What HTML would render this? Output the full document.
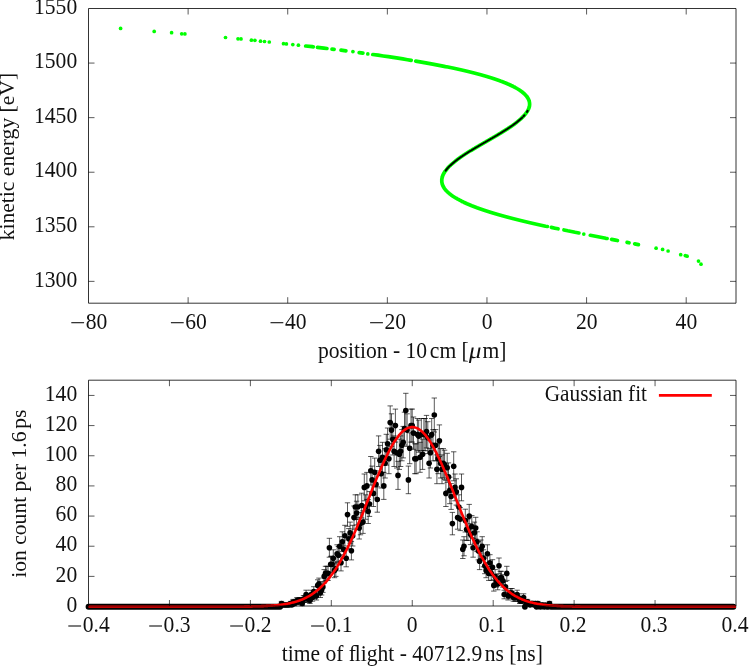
<!DOCTYPE html>
<html><head><meta charset="utf-8"><title>plot</title>
<style>
html,body{margin:0;padding:0;background:#fff;}
body{width:749px;height:667px;overflow:hidden;font-family:"Liberation Serif",serif;}
svg{display:block;will-change:transform;}
</style></head><body>
<svg width="749" height="667" viewBox="0 0 749 667">
<rect width="749" height="667" fill="#fff"/>
<g id="top">
<path d="M188.12 303.2v-6.0M188.12 8.5v6.0M287.73 303.2v-6.0M287.73 8.5v6.0M387.35 303.2v-6.0M387.35 8.5v6.0M486.96 303.2v-6.0M486.96 8.5v6.0M586.58 303.2v-6.0M586.58 8.5v6.0M686.19 303.2v-6.0M686.19 8.5v6.0M88.5 281.37h6.0M736.0 281.37h-6.0M88.5 226.80h6.0M736.0 226.80h-6.0M88.5 172.22h6.0M736.0 172.22h-6.0M88.5 117.65h6.0M736.0 117.65h-6.0M88.5 63.07h6.0M736.0 63.07h-6.0" stroke="#000" stroke-width="0.65" fill="none"/>
<path d="M305.7 46.0L312.2 46.7L313.3 46.8M317.5 47.3L323.8 48.1L326.9 48.5M332.0 49.1L334.1 49.3M341.0 50.2L345.9 50.8M359.2 52.6L362.9 53.1M372.8 54.5L378.1 55.2L383.2 56.0L388.3 56.7L393.2 57.4L398.1 58.2L402.8 58.9L407.5 59.7L411.2 60.3M415.7 61.1L418.6 61.6L421.5 62.1L424.3 62.6L427.1 63.1L429.9 63.6L432.6 64.1L435.2 64.6L437.8 65.1L440.4 65.6L442.9 66.1L445.4 66.6L447.9 67.0L450.3 67.5L452.7 68.0L455.0 68.5L457.3 69.0L459.5 69.5L461.7 70.0L463.9 70.5L466.0 71.0L468.1 71.5L470.1 72.0L472.1 72.5L474.1 73.0L476.0 73.5L477.9 74.0L479.8 74.5L481.6 75.0L483.3 75.5L485.1 76.0L486.8 76.5L488.4 77.0L490.1 77.5L491.7 78.0L493.2 78.5L494.7 79.0L496.2 79.5L497.6 80.0L499.1 80.5L500.4 81.0L501.8 81.5L503.1 82.0L504.3 82.5L505.6 83.0L506.8 83.5L507.9 84.0L509.1 84.5L510.2 85.0L511.2 85.5L512.3 86.0L513.3 86.5L514.2 87.0L515.2 87.5L516.1 88.0L516.9 88.5L517.8 89.0L518.6 89.5L519.4 90.0L520.1 90.5L520.8 91.0L521.5 91.5L522.2 92.0L522.8 92.5L523.4 93.0L523.9 93.5L524.5 94.0L525.0 94.5L525.5 95.0L525.9 95.5L526.4 96.0L526.8 96.5L527.1 97.0L527.5 97.5L527.8 98.0L528.1 98.5L528.3 99.0L528.6 99.5L528.8 100.0L529.0 100.5L529.1 101.0L529.3 101.5L529.4 102.0L529.5 102.5L529.5 103.0L529.6 103.5L529.6 104.0L529.6 104.5L529.6 105.0L529.5 105.5L529.5 106.0L529.4 106.5L529.2 107.0L529.1 107.5L528.9 108.0L528.8 108.5L528.6 108.9L528.3 109.4L528.1 109.9L527.9 110.4L527.6 110.9L527.3 111.4L527.0 111.9L526.6 112.4L526.3 112.9L525.9 113.4L525.5 113.9L525.1 114.4L524.7 114.9L524.3 115.4L523.8 115.9L523.3 116.4L522.8 116.9L522.3 117.4L521.8 117.9L521.3 118.4L520.8 118.9L520.2 119.4L519.6 119.9L519.0 120.4L518.4 120.9L517.8 121.4L517.2 121.9L516.6 122.4L515.9 122.9L515.3 123.4L514.6 123.9L513.9 124.4L513.2 124.9L512.5 125.4L511.8 125.9L511.1 126.4L510.4 126.9L509.6 127.4L508.9 127.9L508.1 128.4L507.4 128.9L506.6 129.4L505.8 129.9L505.0 130.4L504.2 130.9L503.4 131.4L502.6 131.9L501.8 132.4L501.0 132.9L500.2 133.4L499.3 133.9L498.5 134.4L497.7 134.9L496.8 135.4L496.0 135.9L495.1 136.4L494.3 136.9L493.4 137.4L492.6 137.9L491.7 138.4L490.8 138.9L490.0 139.4L489.1 139.9L488.3 140.4L487.4 140.9L486.5 141.4L485.7 141.9L484.8 142.4L483.9 142.9L483.1 143.4L482.2 143.9L481.4 144.4L480.5 144.9L479.6 145.4L478.8 145.9L477.9 146.4L477.1 146.9L476.2 147.4L475.4 147.9L474.6 148.4L473.7 148.9L472.9 149.4L472.1 149.9L471.3 150.4L470.4 150.8L469.6 151.3L468.8 151.8L468.0 152.3L467.2 152.8L466.5 153.3L465.7 153.8L464.9 154.3L464.2 154.8L463.4 155.3L462.7 155.8L461.9 156.3L461.2 156.8L460.5 157.3L459.8 157.8L459.1 158.3L458.4 158.8L457.7 159.3L457.0 159.8L456.4 160.3L455.7 160.8L455.1 161.3L454.5 161.8L453.9 162.3L453.3 162.8L452.7 163.3L452.1 163.8L451.5 164.3L451.0 164.8L450.5 165.3L449.9 165.8L449.4 166.3L448.9 166.8L448.4 167.3L448.0 167.8L447.5 168.3L447.1 168.8L446.7 169.3L446.3 169.8L445.9 170.3L445.5 170.8L445.1 171.3L444.8 171.8L444.5 172.3L444.2 172.8L443.9 173.3L443.6 173.8L443.4 174.3L443.1 174.8L442.9 175.3L442.7 175.8L442.5 176.3L442.4 176.8L442.2 177.3L442.1 177.8L442.0 178.3L441.9 178.8L441.8 179.3L441.8 179.8L441.8 180.3L441.8 180.8L441.8 181.3L441.8 181.8L441.9 182.3L442.0 182.8L442.1 183.3L442.2 183.8L442.3 184.3L442.5 184.8L442.7 185.3L442.9 185.8L443.2 186.3L443.4 186.8L443.7 187.3L444.0 187.8L444.3 188.3L444.7 188.8L445.1 189.3L445.5 189.8L445.9 190.3L446.3 190.8L446.8 191.3L447.3 191.8L447.8 192.3L448.4 192.7L448.9 193.2L449.5 193.7L450.2 194.2L450.8 194.7L451.5 195.2L452.2 195.7L452.9 196.2L453.7 196.7L454.5 197.2L455.3 197.7L456.1 198.2L457.0 198.7L457.8 199.2L458.8 199.7L459.7 200.2L460.7 200.7L461.6 201.2L462.7 201.7L463.7 202.2L464.8 202.7L465.9 203.2L467.0 203.7L468.2 204.2L469.4 204.7L470.6 205.2L471.8 205.7L473.1 206.2L474.4 206.7L475.7 207.2L477.0 207.7L478.4 208.2L479.8 208.7L481.3 209.2L482.7 209.7L484.2 210.2L485.7 210.7L487.3 211.2L488.8 211.7L490.4 212.2L492.0 212.7L493.7 213.2L495.4 213.7L497.1 214.2L498.8 214.7L500.6 215.2L502.4 215.7L504.2 216.2L506.0 216.7L507.9 217.2L509.8 217.7L511.7 218.2L513.6 218.7L515.6 219.2L517.6 219.7L519.6 220.2L521.6 220.7L523.7 221.2L525.8 221.7L527.9 222.2L530.0 222.7L532.2 223.2L534.4 223.7L536.6 224.2L538.8 224.7L541.1 225.2L543.3 225.7L545.6 226.2L547.4 226.5M551.4 227.4L555.0 228.2L558.0 228.8M564.0 230.0L567.7 230.8L571.4 231.5L575.1 232.3L578.9 233.0M590.3 235.3L594.2 236.0L598.1 236.8L601.9 237.5L605.8 238.3L607.1 238.5M611.6 239.4L615.5 240.1L617.4 240.5M627.1 242.4L629.0 242.8M634.7 243.9L638.4 244.6" fill="none" stroke="#00ff00" stroke-width="3.7" stroke-linecap="round" stroke-linejoin="round"/>
<g fill="#00ff00"><circle cx="120.6" cy="28.4" r="1.85"/><circle cx="154.2" cy="31.4" r="1.85"/><circle cx="171.6" cy="32.7" r="1.85"/><circle cx="181.7" cy="33.8" r="1.85"/><circle cx="184.9" cy="33.9" r="1.85"/><circle cx="225.5" cy="37.5" r="1.85"/><circle cx="238" cy="38.8" r="1.85"/><circle cx="241" cy="38.9" r="1.85"/><circle cx="251.4" cy="40.2" r="1.85"/><circle cx="254.9" cy="40.3" r="1.85"/><circle cx="260.5" cy="41.2" r="1.85"/><circle cx="264.5" cy="41.5" r="1.85"/><circle cx="269.3" cy="42" r="1.85"/><circle cx="283.5" cy="43.7" r="1.85"/><circle cx="286.4" cy="43.9" r="1.85"/><circle cx="292.8" cy="44.6" r="1.85"/><circle cx="298.4" cy="45.2" r="1.85"/><circle cx="352.9" cy="51.6" r="1.85"/><circle cx="367.8" cy="53.9" r="1.85"/><circle cx="583.8" cy="234.1" r="1.85"/><circle cx="656.1" cy="248.2" r="1.85"/><circle cx="662.6" cy="249.4" r="1.85"/><circle cx="668.1" cy="251" r="1.85"/><circle cx="680.7" cy="254.7" r="1.85"/><circle cx="685.3" cy="255.6" r="1.85"/><circle cx="687.1" cy="256.2" r="1.85"/><circle cx="698.5" cy="261.1" r="1.85"/><circle cx="701" cy="264.2" r="1.85"/></g>
<path d="M522.2 117.6L521.7 118.1L521.2 118.6L520.6 119.1L520.1 119.5L519.5 120.0L518.9 120.5L518.3 121.0L517.7 121.5L517.1 122.0L516.4 122.5L515.8 123.0L515.1 123.5L514.4 124.0L513.7 124.5L513.1 125.0L512.4 125.5L511.6 126.0L510.9 126.5L510.2 127.0L509.4 127.5L508.7 128.0L507.9 128.5L507.2 129.0L506.4 129.5L505.6 130.0L504.8 130.5L504.0 131.0L503.2 131.5L502.4 132.0L501.6 132.5L500.8 133.0L500.0 133.5L499.1 134.0L498.3 134.5L497.5 135.0L496.6 135.5L495.8 136.0L494.9 136.5L494.1 137.0L493.2 137.5L492.4 138.0L491.5 138.5L490.6 139.0L489.8 139.5L488.9 140.0L488.0 140.5L487.2 141.0L486.3 141.5L485.5 142.0L484.6 142.5L483.7 143.0L482.9 143.5L482.0 144.0L481.1 144.5L480.3 145.0L479.4 145.5L478.6 146.0L477.7 146.5L476.9 147.0L476.0 147.5L475.2 148.0L474.4 148.5L473.5 149.0L472.7 149.5L471.9 150.0L471.1 150.5L470.2 151.0L469.4 151.5L468.6 152.0L467.8 152.5L467.1 153.0L466.3 153.5L465.5 154.0L464.7 154.5L464.0 155.0L463.2 155.5L462.5 156.0L461.7 156.5L461.0 157.0L460.3 157.5L459.6 158.0L458.9 158.5L458.2 159.0L457.5 159.5L456.9 160.0L456.2 160.5L455.6 161.0L454.9 161.4L454.3 161.9L453.7 162.4L453.1 162.9L452.5 163.4L452.0 163.9L451.4 164.4L450.9 164.9L450.3 165.4L449.8 165.9L449.3 166.4L448.8 166.9L448.3 167.4L447.9 167.9L447.4 168.4L447.0 168.9L446.6 169.4L446.2 169.9L445.8 170.4L445.7 170.6M524.4 115.3L524.3 115.4L524.1 115.6L524.0 115.7L523.9 115.8L523.8 115.9L523.7 116.1L523.6 116.2M527.6 110.9L527.5 111.1L527.4 111.2L527.4 111.3L527.3 111.4L527.2 111.6L527.1 111.7L527.0 111.8L527.0 111.9" fill="none" stroke="#000" stroke-width="2.0" stroke-linecap="round"/>
<rect x="88.5" y="8.5" width="647.50" height="294.70" fill="none" stroke="#000" stroke-width="0.8" stroke-linejoin="round"/>
<g font-family="Liberation Serif, serif" font-size="21.6" fill="#111">
<path d="M71.3 322.7H84.1" stroke="#111" stroke-width="1.1"/><text transform="translate(85.7,328.6) scale(1,1.07)" text-anchor="start">80</text>
<path d="M170.9 322.7H183.7" stroke="#111" stroke-width="1.1"/><text transform="translate(185.3,328.6) scale(1,1.07)" text-anchor="start">60</text>
<path d="M270.5 322.7H283.3" stroke="#111" stroke-width="1.1"/><text transform="translate(284.9,328.6) scale(1,1.07)" text-anchor="start">40</text>
<path d="M370.1 322.7H382.9" stroke="#111" stroke-width="1.1"/><text transform="translate(384.5,328.6) scale(1,1.07)" text-anchor="start">20</text>
<text transform="translate(481.8,328.6) scale(1,1.07)" text-anchor="start">0</text>
<text transform="translate(576.0,328.6) scale(1,1.07)" text-anchor="start">20</text>
<text transform="translate(675.6,328.6) scale(1,1.07)" text-anchor="start">40</text>
<text transform="translate(77.2,286.6) scale(1,1.07)" text-anchor="end">1300</text>
<text transform="translate(77.2,232.0) scale(1,1.07)" text-anchor="end">1350</text>
<text transform="translate(77.2,177.4) scale(1,1.07)" text-anchor="end">1400</text>
<text transform="translate(77.2,122.8) scale(1,1.07)" text-anchor="end">1450</text>
<text transform="translate(77.2,68.3) scale(1,1.07)" text-anchor="end">1500</text>
<text transform="translate(77.2,13.7) scale(1,1.07)" text-anchor="end">1550</text>
<text transform="translate(317.9,358.1) scale(1,1.07)" text-anchor="start">position - 10</text>
<text transform="translate(429.8,358.1) scale(1,1.07)" text-anchor="start">cm [</text>
<text transform="translate(467.8,358.1) scale(1.15,1.07) skewX(-10)">μ</text>
<text transform="translate(482.5,358.1) scale(1,1.07)" text-anchor="start">m]</text>
<text transform="translate(14.2,156.6) rotate(-90)" text-anchor="middle">kinetic energy [eV]</text>
</g>
</g>
<g id="bottom">
<path d="M281.5 601.4V605.7M278.8 601.4h5.4M278.8 605.7h5.4M282.8 603.5V606.5M280.1 603.5h5.4M280.1 606.5h5.4M284.0 603.5V606.5M281.3 603.5h5.4M281.3 606.5h5.4M285.3 603.5V606.5M282.6 603.5h5.4M282.6 606.5h5.4M286.6 603.5V606.5M283.9 603.5h5.4M283.9 606.5h5.4M287.9 603.5V606.5M285.2 603.5h5.4M285.2 606.5h5.4M289.2 603.5V606.5M286.5 603.5h5.4M286.5 606.5h5.4M290.5 601.4V605.7M287.8 601.4h5.4M287.8 605.7h5.4M291.8 603.5V606.5M289.1 603.5h5.4M289.1 606.5h5.4M293.1 599.4V604.6M290.4 599.4h5.4M290.4 604.6h5.4M294.4 601.4V605.7M291.7 601.4h5.4M291.7 605.7h5.4M295.7 599.4V604.6M293.0 599.4h5.4M293.0 604.6h5.4M297.0 597.5V603.5M294.3 597.5h5.4M294.3 603.5h5.4M298.3 599.4V604.6M295.6 599.4h5.4M295.6 604.6h5.4M299.6 597.5V603.5M296.9 597.5h5.4M296.9 603.5h5.4M300.9 597.5V603.5M298.2 597.5h5.4M298.2 603.5h5.4M302.2 601.4V605.7M299.5 601.4h5.4M299.5 605.7h5.4M303.5 595.6V602.4M300.8 595.6h5.4M300.8 602.4h5.4M304.8 595.6V602.4M302.1 595.6h5.4M302.1 602.4h5.4M306.1 590.2V598.8M303.4 590.2h5.4M303.4 598.8h5.4M307.4 595.6V602.4M304.7 595.6h5.4M304.7 602.4h5.4M308.6 593.8V601.2M305.9 593.8h5.4M305.9 601.2h5.4M309.9 597.5V603.5M307.2 597.5h5.4M307.2 603.5h5.4M311.2 590.2V598.8M308.5 590.2h5.4M308.5 598.8h5.4M312.5 593.8V601.2M309.8 593.8h5.4M309.8 601.2h5.4M313.8 586.7V596.2M311.1 586.7h5.4M311.1 596.2h5.4M315.1 590.2V598.8M312.4 590.2h5.4M312.4 598.8h5.4M316.4 592.0V600.0M313.7 592.0h5.4M313.7 600.0h5.4M317.7 579.8V591.1M315.0 579.8h5.4M315.0 591.1h5.4M319.0 578.1V589.8M316.3 578.1h5.4M316.3 589.8h5.4M320.3 588.5V597.5M317.6 588.5h5.4M317.6 597.5h5.4M321.6 585.0V595.0M318.9 585.0h5.4M318.9 595.0h5.4M322.9 581.5V592.4M320.2 581.5h5.4M320.2 592.4h5.4M324.2 569.6V583.1M321.5 569.6h5.4M321.5 583.1h5.4M325.5 566.3V580.4M322.8 566.3h5.4M322.8 580.4h5.4M326.8 566.3V580.4M324.1 566.3h5.4M324.1 580.4h5.4M328.1 566.3V580.4M325.4 566.3h5.4M325.4 580.4h5.4M329.4 538.3V557.2M326.7 538.3h5.4M326.7 557.2h5.4M330.7 556.3V572.3M328.0 556.3h5.4M328.0 572.3h5.4M332.0 556.3V572.3M329.3 556.3h5.4M329.3 572.3h5.4M333.3 549.8V566.8M330.6 549.8h5.4M330.6 566.8h5.4M334.5 563.0V577.7M331.8 563.0h5.4M331.8 577.7h5.4M335.8 561.3V576.4M333.1 561.3h5.4M333.1 576.4h5.4M337.1 544.8V562.7M334.4 544.8h5.4M334.4 562.7h5.4M338.4 546.5V564.1M335.7 546.5h5.4M335.7 564.1h5.4M339.7 536.7V555.8M337.0 536.7h5.4M337.0 555.8h5.4M341.0 554.7V570.9M338.3 554.7h5.4M338.3 570.9h5.4M342.3 531.8V551.6M339.6 531.8h5.4M339.6 551.6h5.4M343.6 540.0V558.5M340.9 540.0h5.4M340.9 558.5h5.4M344.9 525.3V546.0M342.2 525.3h5.4M342.2 546.0h5.4M346.2 549.8V566.8M343.5 549.8h5.4M343.5 566.8h5.4M347.5 502.8V526.3M344.8 502.8h5.4M344.8 526.3h5.4M348.8 528.6V548.8M346.1 528.6h5.4M346.1 548.8h5.4M350.1 522.1V543.2M347.4 522.1h5.4M347.4 543.2h5.4M351.4 541.6V559.9M348.7 541.6h5.4M348.7 559.9h5.4M352.7 525.3V546.0M350.0 525.3h5.4M350.0 546.0h5.4M354.0 506.0V529.2M351.3 506.0h5.4M351.3 529.2h5.4M355.3 494.8V519.3M352.6 494.8h5.4M352.6 519.3h5.4M356.6 501.2V524.9M353.9 501.2h5.4M353.9 524.9h5.4M357.9 494.8V519.3M355.2 494.8h5.4M355.2 519.3h5.4M359.2 517.3V539.0M356.5 517.3h5.4M356.5 539.0h5.4M360.4 512.4V534.8M357.8 512.4h5.4M357.8 534.8h5.4M361.7 493.2V517.9M359.0 493.2h5.4M359.0 517.9h5.4M363.0 510.8V533.4M360.3 510.8h5.4M360.3 533.4h5.4M364.3 474.0V500.8M361.6 474.0h5.4M361.6 500.8h5.4M365.6 494.8V519.3M362.9 494.8h5.4M362.9 519.3h5.4M366.9 472.4V499.4M364.2 472.4h5.4M364.2 499.4h5.4M368.2 499.6V523.5M365.5 499.6h5.4M365.5 523.5h5.4M369.5 491.6V516.4M366.8 491.6h5.4M366.8 516.4h5.4M370.8 456.5V485.1M368.1 456.5h5.4M368.1 485.1h5.4M372.1 466.1V493.7M369.4 466.1h5.4M369.4 493.7h5.4M373.4 480.4V506.5M370.7 480.4h5.4M370.7 506.5h5.4M374.7 458.1V486.6M372.0 458.1h5.4M372.0 486.6h5.4M376.0 470.8V498.0M373.3 470.8h5.4M373.3 498.0h5.4M377.3 486.8V512.2M374.6 486.8h5.4M374.6 512.2h5.4M378.6 435.9V466.5M375.9 435.9h5.4M375.9 466.5h5.4M379.9 445.4V475.1M377.2 445.4h5.4M377.2 475.1h5.4M381.2 459.7V488.0M378.5 459.7h5.4M378.5 488.0h5.4M382.5 442.3V472.3M379.8 442.3h5.4M379.8 472.3h5.4M383.8 472.4V499.4M381.1 472.4h5.4M381.1 499.4h5.4M385.1 448.6V478.0M382.4 448.6h5.4M382.4 478.0h5.4M386.3 434.3V465.1M383.6 434.3h5.4M383.6 465.1h5.4M387.6 428.0V459.4M384.9 428.0h5.4M384.9 459.4h5.4M388.9 443.8V473.7M386.2 443.8h5.4M386.2 473.7h5.4M390.2 405.9V439.2M387.5 405.9h5.4M387.5 439.2h5.4M391.5 413.8V446.4M388.8 413.8h5.4M388.8 446.4h5.4M392.8 423.3V455.0M390.1 423.3h5.4M390.1 455.0h5.4M394.1 435.9V466.5M391.4 435.9h5.4M391.4 466.5h5.4M395.4 409.1V442.1M392.7 409.1h5.4M392.7 442.1h5.4M396.7 437.5V468.0M394.0 437.5h5.4M394.0 468.0h5.4M398.0 461.3V489.4M395.3 461.3h5.4M395.3 489.4h5.4M399.3 439.1V469.4M396.6 439.1h5.4M396.6 469.4h5.4M400.6 435.9V466.5M397.9 435.9h5.4M397.9 466.5h5.4M401.9 429.6V460.8M399.2 429.6h5.4M399.2 460.8h5.4M403.2 426.4V457.9M400.5 426.4h5.4M400.5 457.9h5.4M404.5 412.2V445.0M401.8 412.2h5.4M401.8 445.0h5.4M405.8 393.3V427.7M403.1 393.3h5.4M403.1 427.7h5.4M407.1 413.8V446.4M404.4 413.8h5.4M404.4 446.4h5.4M408.4 466.1V493.7M405.7 466.1h5.4M405.7 493.7h5.4M409.7 432.8V463.7M407.0 432.8h5.4M407.0 463.7h5.4M411.0 409.1V442.1M408.3 409.1h5.4M408.3 442.1h5.4M412.2 409.1V442.1M409.6 409.1h5.4M409.6 442.1h5.4M413.5 417.0V449.3M410.8 417.0h5.4M410.8 449.3h5.4M414.8 443.8V473.7M412.1 443.8h5.4M412.1 473.7h5.4M416.1 443.8V473.7M413.4 443.8h5.4M413.4 473.7h5.4M417.4 418.5V450.7M414.7 418.5h5.4M414.7 450.7h5.4M418.7 420.1V452.2M416.0 420.1h5.4M416.0 452.2h5.4M420.0 442.3V472.3M417.3 442.3h5.4M417.3 472.3h5.4M421.3 418.5V450.7M418.6 418.5h5.4M418.6 450.7h5.4M422.6 439.1V469.4M419.9 439.1h5.4M419.9 469.4h5.4M423.9 418.5V450.7M421.2 418.5h5.4M421.2 450.7h5.4M425.2 418.5V450.7M422.5 418.5h5.4M422.5 450.7h5.4M426.5 415.4V447.9M423.8 415.4h5.4M423.8 447.9h5.4M427.8 421.7V453.6M425.1 421.7h5.4M425.1 453.6h5.4M429.1 448.6V478.0M426.4 448.6h5.4M426.4 478.0h5.4M430.4 437.5V468.0M427.7 437.5h5.4M427.7 468.0h5.4M431.7 418.5V450.7M429.0 418.5h5.4M429.0 450.7h5.4M433.0 429.6V460.8M430.3 429.6h5.4M430.3 460.8h5.4M434.3 398.0V432.0M431.6 398.0h5.4M431.6 432.0h5.4M435.6 429.6V460.8M432.9 429.6h5.4M432.9 460.8h5.4M436.9 454.9V483.7M434.2 454.9h5.4M434.2 483.7h5.4M438.1 443.8V473.7M435.4 443.8h5.4M435.4 473.7h5.4M439.4 424.9V456.5M436.7 424.9h5.4M436.7 456.5h5.4M440.7 448.6V478.0M438.0 448.6h5.4M438.0 478.0h5.4M442.0 454.9V483.7M439.3 454.9h5.4M439.3 483.7h5.4M443.3 448.6V478.0M440.6 448.6h5.4M440.6 478.0h5.4M444.6 450.2V479.4M441.9 450.2h5.4M441.9 479.4h5.4M445.9 480.4V506.5M443.2 480.4h5.4M443.2 506.5h5.4M447.2 453.3V482.3M444.5 453.3h5.4M444.5 482.3h5.4M448.5 462.9V490.8M445.8 462.9h5.4M445.8 490.8h5.4M449.8 477.2V503.7M447.1 477.2h5.4M447.1 503.7h5.4M451.1 483.6V509.4M448.4 483.6h5.4M448.4 509.4h5.4M452.4 512.4V534.8M449.7 512.4h5.4M449.7 534.8h5.4M453.7 451.8V480.8M451.0 451.8h5.4M451.0 480.8h5.4M455.0 474.0V500.8M452.3 474.0h5.4M452.3 500.8h5.4M456.3 478.8V505.1M453.6 478.8h5.4M453.6 505.1h5.4M457.6 506.0V529.2M454.9 506.0h5.4M454.9 529.2h5.4M458.9 494.8V519.3M456.2 494.8h5.4M456.2 519.3h5.4M460.2 507.6V530.6M457.5 507.6h5.4M457.5 530.6h5.4M461.5 474.0V500.8M458.8 474.0h5.4M458.8 500.8h5.4M462.8 540.0V558.5M460.1 540.0h5.4M460.1 558.5h5.4M464.0 536.7V555.8M461.3 536.7h5.4M461.3 555.8h5.4M465.3 509.2V532.0M462.6 509.2h5.4M462.6 532.0h5.4M466.6 518.9V540.4M463.9 518.9h5.4M463.9 540.4h5.4M467.9 518.9V540.4M465.2 518.9h5.4M465.2 540.4h5.4M469.2 504.4V527.8M466.5 504.4h5.4M466.5 527.8h5.4M470.5 523.7V544.6M467.8 523.7h5.4M467.8 544.6h5.4M471.8 515.6V537.6M469.1 515.6h5.4M469.1 537.6h5.4M473.1 538.3V557.2M470.4 538.3h5.4M470.4 557.2h5.4M474.4 522.1V543.2M471.7 522.1h5.4M471.7 543.2h5.4M475.7 517.3V539.0M473.0 517.3h5.4M473.0 539.0h5.4M477.0 531.8V551.6M474.3 531.8h5.4M474.3 551.6h5.4M478.3 541.6V559.9M475.6 541.6h5.4M475.6 559.9h5.4M479.6 553.1V569.6M476.9 553.1h5.4M476.9 569.6h5.4M480.9 540.0V558.5M478.2 540.0h5.4M478.2 558.5h5.4M482.2 536.7V555.8M479.5 536.7h5.4M479.5 555.8h5.4M483.5 549.8V566.8M480.8 549.8h5.4M480.8 566.8h5.4M484.8 558.0V573.7M482.1 558.0h5.4M482.1 573.7h5.4M486.1 563.0V577.7M483.4 563.0h5.4M483.4 577.7h5.4M487.4 544.8V562.7M484.7 544.8h5.4M484.7 562.7h5.4M488.7 566.3V580.4M486.0 566.3h5.4M486.0 580.4h5.4M489.9 554.7V570.9M487.2 554.7h5.4M487.2 570.9h5.4M491.2 566.3V580.4M488.5 566.3h5.4M488.5 580.4h5.4M492.5 559.7V575.0M489.8 559.7h5.4M489.8 575.0h5.4M493.8 579.8V591.1M491.1 579.8h5.4M491.1 591.1h5.4M495.1 569.6V583.1M492.4 569.6h5.4M492.4 583.1h5.4M496.4 574.7V587.1M493.7 574.7h5.4M493.7 587.1h5.4M497.7 578.1V589.8M495.0 578.1h5.4M495.0 589.8h5.4M499.0 558.0V573.7M496.3 558.0h5.4M496.3 573.7h5.4M500.3 571.3V584.5M497.6 571.3h5.4M497.6 584.5h5.4M501.6 571.3V584.5M498.9 571.3h5.4M498.9 584.5h5.4M502.9 574.7V587.1M500.2 574.7h5.4M500.2 587.1h5.4M504.2 590.2V598.8M501.5 590.2h5.4M501.5 598.8h5.4M505.5 581.5V592.4M502.8 581.5h5.4M502.8 592.4h5.4M506.8 566.3V580.4M504.1 566.3h5.4M504.1 580.4h5.4M508.1 592.0V600.0M505.4 592.0h5.4M505.4 600.0h5.4M509.4 590.2V598.8M506.7 590.2h5.4M506.7 598.8h5.4M510.7 588.5V597.5M508.0 588.5h5.4M508.0 597.5h5.4M512.0 588.5V597.5M509.3 588.5h5.4M509.3 597.5h5.4M513.3 593.8V601.2M510.6 593.8h5.4M510.6 601.2h5.4M514.6 593.8V601.2M511.9 593.8h5.4M511.9 601.2h5.4M515.9 593.8V601.2M513.1 593.8h5.4M513.1 601.2h5.4M517.1 590.2V598.8M514.4 590.2h5.4M514.4 598.8h5.4M518.4 593.8V601.2M515.7 593.8h5.4M515.7 601.2h5.4M519.7 597.5V603.5M517.0 597.5h5.4M517.0 603.5h5.4M521.0 597.5V603.5M518.3 597.5h5.4M518.3 603.5h5.4M522.3 597.5V603.5M519.6 597.5h5.4M519.6 603.5h5.4M523.6 593.8V601.2M520.9 593.8h5.4M520.9 601.2h5.4M526.2 599.4V604.6M523.5 599.4h5.4M523.5 604.6h5.4M527.5 599.4V604.6M524.8 599.4h5.4M524.8 604.6h5.4M528.8 601.4V605.7M526.1 601.4h5.4M526.1 605.7h5.4M530.1 603.5V606.5M527.4 603.5h5.4M527.4 606.5h5.4M531.4 601.4V605.7M528.7 601.4h5.4M528.7 605.7h5.4M532.7 601.4V605.7M530.0 601.4h5.4M530.0 605.7h5.4M534.0 603.5V606.5M531.3 603.5h5.4M531.3 606.5h5.4M535.3 601.4V605.7M532.6 601.4h5.4M532.6 605.7h5.4M537.9 601.4V605.7M535.2 601.4h5.4M535.2 605.7h5.4M539.2 603.5V606.5M536.5 603.5h5.4M536.5 606.5h5.4M541.8 603.5V606.5M539.0 603.5h5.4M539.0 606.5h5.4M543.0 603.5V606.5M540.3 603.5h5.4M540.3 606.5h5.4M545.6 603.5V606.5M542.9 603.5h5.4M542.9 606.5h5.4M549.5 601.4V605.7M546.8 601.4h5.4M546.8 605.7h5.4" stroke="#000" stroke-width="0.65" fill="none"/>
<path d="M88.5 606.75H280.17M524.9 606.75H524.92M536.6 606.75H536.58M540.5 606.75H540.46M544.3 606.75H544.35M546.9 606.75H548.24M550.8 606.75H733.42" stroke="#000" stroke-width="5.8" stroke-linecap="round" fill="none"/>
<g fill="#000"><circle cx="281.5" cy="603.5" r="2.8"/><circle cx="282.8" cy="605.0" r="2.8"/><circle cx="284.0" cy="605.0" r="2.8"/><circle cx="285.3" cy="605.0" r="2.8"/><circle cx="286.6" cy="605.0" r="2.8"/><circle cx="287.9" cy="605.0" r="2.8"/><circle cx="289.2" cy="605.0" r="2.8"/><circle cx="290.5" cy="603.5" r="2.8"/><circle cx="291.8" cy="605.0" r="2.8"/><circle cx="293.1" cy="602.0" r="2.8"/><circle cx="294.4" cy="603.5" r="2.8"/><circle cx="295.7" cy="602.0" r="2.8"/><circle cx="297.0" cy="600.5" r="2.8"/><circle cx="298.3" cy="602.0" r="2.8"/><circle cx="299.6" cy="600.5" r="2.8"/><circle cx="300.9" cy="600.5" r="2.8"/><circle cx="302.2" cy="603.5" r="2.8"/><circle cx="303.5" cy="599.0" r="2.8"/><circle cx="304.8" cy="599.0" r="2.8"/><circle cx="306.1" cy="594.5" r="2.8"/><circle cx="307.4" cy="599.0" r="2.8"/><circle cx="308.6" cy="597.5" r="2.8"/><circle cx="309.9" cy="600.5" r="2.8"/><circle cx="311.2" cy="594.5" r="2.8"/><circle cx="312.5" cy="597.5" r="2.8"/><circle cx="313.8" cy="591.5" r="2.8"/><circle cx="315.1" cy="594.5" r="2.8"/><circle cx="316.4" cy="596.0" r="2.8"/><circle cx="317.7" cy="585.4" r="2.8"/><circle cx="319.0" cy="583.9" r="2.8"/><circle cx="320.3" cy="593.0" r="2.8"/><circle cx="321.6" cy="590.0" r="2.8"/><circle cx="322.9" cy="586.9" r="2.8"/><circle cx="324.2" cy="576.4" r="2.8"/><circle cx="325.5" cy="573.4" r="2.8"/><circle cx="326.8" cy="573.4" r="2.8"/><circle cx="328.1" cy="573.4" r="2.8"/><circle cx="329.4" cy="547.7" r="2.8"/><circle cx="330.7" cy="564.3" r="2.8"/><circle cx="332.0" cy="564.3" r="2.8"/><circle cx="333.3" cy="558.3" r="2.8"/><circle cx="334.5" cy="570.4" r="2.8"/><circle cx="335.8" cy="568.8" r="2.8"/><circle cx="337.1" cy="553.8" r="2.8"/><circle cx="338.4" cy="555.3" r="2.8"/><circle cx="339.7" cy="546.2" r="2.8"/><circle cx="341.0" cy="562.8" r="2.8"/><circle cx="342.3" cy="541.7" r="2.8"/><circle cx="343.6" cy="549.2" r="2.8"/><circle cx="344.9" cy="535.7" r="2.8"/><circle cx="346.2" cy="558.3" r="2.8"/><circle cx="347.5" cy="514.6" r="2.8"/><circle cx="348.8" cy="538.7" r="2.8"/><circle cx="350.1" cy="532.7" r="2.8"/><circle cx="351.4" cy="550.8" r="2.8"/><circle cx="352.7" cy="535.7" r="2.8"/><circle cx="354.0" cy="517.6" r="2.8"/><circle cx="355.3" cy="507.0" r="2.8"/><circle cx="356.6" cy="513.1" r="2.8"/><circle cx="357.9" cy="507.0" r="2.8"/><circle cx="359.2" cy="528.1" r="2.8"/><circle cx="360.4" cy="523.6" r="2.8"/><circle cx="361.7" cy="505.5" r="2.8"/><circle cx="363.0" cy="522.1" r="2.8"/><circle cx="364.3" cy="487.4" r="2.8"/><circle cx="365.6" cy="507.0" r="2.8"/><circle cx="366.9" cy="485.9" r="2.8"/><circle cx="368.2" cy="511.5" r="2.8"/><circle cx="369.5" cy="504.0" r="2.8"/><circle cx="370.8" cy="470.8" r="2.8"/><circle cx="372.1" cy="479.9" r="2.8"/><circle cx="373.4" cy="493.4" r="2.8"/><circle cx="374.7" cy="472.3" r="2.8"/><circle cx="376.0" cy="484.4" r="2.8"/><circle cx="377.3" cy="499.5" r="2.8"/><circle cx="378.6" cy="451.2" r="2.8"/><circle cx="379.9" cy="460.3" r="2.8"/><circle cx="381.2" cy="473.8" r="2.8"/><circle cx="382.5" cy="457.3" r="2.8"/><circle cx="383.8" cy="485.9" r="2.8"/><circle cx="385.1" cy="463.3" r="2.8"/><circle cx="386.3" cy="449.7" r="2.8"/><circle cx="387.6" cy="443.7" r="2.8"/><circle cx="388.9" cy="458.8" r="2.8"/><circle cx="390.2" cy="422.6" r="2.8"/><circle cx="391.5" cy="430.1" r="2.8"/><circle cx="392.8" cy="439.2" r="2.8"/><circle cx="394.1" cy="451.2" r="2.8"/><circle cx="395.4" cy="425.6" r="2.8"/><circle cx="396.7" cy="452.7" r="2.8"/><circle cx="398.0" cy="475.4" r="2.8"/><circle cx="399.3" cy="454.2" r="2.8"/><circle cx="400.6" cy="451.2" r="2.8"/><circle cx="401.9" cy="445.2" r="2.8"/><circle cx="403.2" cy="442.2" r="2.8"/><circle cx="404.5" cy="428.6" r="2.8"/><circle cx="405.8" cy="410.5" r="2.8"/><circle cx="407.1" cy="430.1" r="2.8"/><circle cx="408.4" cy="479.9" r="2.8"/><circle cx="409.7" cy="448.2" r="2.8"/><circle cx="411.0" cy="425.6" r="2.8"/><circle cx="412.2" cy="425.6" r="2.8"/><circle cx="413.5" cy="433.1" r="2.8"/><circle cx="414.8" cy="458.8" r="2.8"/><circle cx="416.1" cy="458.8" r="2.8"/><circle cx="417.4" cy="434.6" r="2.8"/><circle cx="418.7" cy="436.1" r="2.8"/><circle cx="420.0" cy="457.3" r="2.8"/><circle cx="421.3" cy="434.6" r="2.8"/><circle cx="422.6" cy="454.2" r="2.8"/><circle cx="423.9" cy="434.6" r="2.8"/><circle cx="425.2" cy="434.6" r="2.8"/><circle cx="426.5" cy="431.6" r="2.8"/><circle cx="427.8" cy="437.7" r="2.8"/><circle cx="429.1" cy="463.3" r="2.8"/><circle cx="430.4" cy="452.7" r="2.8"/><circle cx="431.7" cy="434.6" r="2.8"/><circle cx="433.0" cy="445.2" r="2.8"/><circle cx="434.3" cy="415.0" r="2.8"/><circle cx="435.6" cy="445.2" r="2.8"/><circle cx="436.9" cy="469.3" r="2.8"/><circle cx="438.1" cy="458.8" r="2.8"/><circle cx="439.4" cy="440.7" r="2.8"/><circle cx="440.7" cy="463.3" r="2.8"/><circle cx="442.0" cy="469.3" r="2.8"/><circle cx="443.3" cy="463.3" r="2.8"/><circle cx="444.6" cy="464.8" r="2.8"/><circle cx="445.9" cy="493.4" r="2.8"/><circle cx="447.2" cy="467.8" r="2.8"/><circle cx="448.5" cy="476.9" r="2.8"/><circle cx="449.8" cy="490.4" r="2.8"/><circle cx="451.1" cy="496.5" r="2.8"/><circle cx="452.4" cy="523.6" r="2.8"/><circle cx="453.7" cy="466.3" r="2.8"/><circle cx="455.0" cy="487.4" r="2.8"/><circle cx="456.3" cy="491.9" r="2.8"/><circle cx="457.6" cy="517.6" r="2.8"/><circle cx="458.9" cy="507.0" r="2.8"/><circle cx="460.2" cy="519.1" r="2.8"/><circle cx="461.5" cy="487.4" r="2.8"/><circle cx="462.8" cy="549.2" r="2.8"/><circle cx="464.0" cy="546.2" r="2.8"/><circle cx="465.3" cy="520.6" r="2.8"/><circle cx="466.6" cy="529.6" r="2.8"/><circle cx="467.9" cy="529.6" r="2.8"/><circle cx="469.2" cy="516.1" r="2.8"/><circle cx="470.5" cy="534.2" r="2.8"/><circle cx="471.8" cy="526.6" r="2.8"/><circle cx="473.1" cy="547.7" r="2.8"/><circle cx="474.4" cy="532.7" r="2.8"/><circle cx="475.7" cy="528.1" r="2.8"/><circle cx="477.0" cy="541.7" r="2.8"/><circle cx="478.3" cy="550.8" r="2.8"/><circle cx="479.6" cy="561.3" r="2.8"/><circle cx="480.9" cy="549.2" r="2.8"/><circle cx="482.2" cy="546.2" r="2.8"/><circle cx="483.5" cy="558.3" r="2.8"/><circle cx="484.8" cy="565.8" r="2.8"/><circle cx="486.1" cy="570.4" r="2.8"/><circle cx="487.4" cy="553.8" r="2.8"/><circle cx="488.7" cy="573.4" r="2.8"/><circle cx="489.9" cy="562.8" r="2.8"/><circle cx="491.2" cy="573.4" r="2.8"/><circle cx="492.5" cy="567.3" r="2.8"/><circle cx="493.8" cy="585.4" r="2.8"/><circle cx="495.1" cy="576.4" r="2.8"/><circle cx="496.4" cy="580.9" r="2.8"/><circle cx="497.7" cy="583.9" r="2.8"/><circle cx="499.0" cy="565.8" r="2.8"/><circle cx="500.3" cy="577.9" r="2.8"/><circle cx="501.6" cy="577.9" r="2.8"/><circle cx="502.9" cy="580.9" r="2.8"/><circle cx="504.2" cy="594.5" r="2.8"/><circle cx="505.5" cy="586.9" r="2.8"/><circle cx="506.8" cy="573.4" r="2.8"/><circle cx="508.1" cy="596.0" r="2.8"/><circle cx="509.4" cy="594.5" r="2.8"/><circle cx="510.7" cy="593.0" r="2.8"/><circle cx="512.0" cy="593.0" r="2.8"/><circle cx="513.3" cy="597.5" r="2.8"/><circle cx="514.6" cy="597.5" r="2.8"/><circle cx="515.9" cy="597.5" r="2.8"/><circle cx="517.1" cy="594.5" r="2.8"/><circle cx="518.4" cy="597.5" r="2.8"/><circle cx="519.7" cy="600.5" r="2.8"/><circle cx="521.0" cy="600.5" r="2.8"/><circle cx="522.3" cy="600.5" r="2.8"/><circle cx="523.6" cy="597.5" r="2.8"/><circle cx="526.2" cy="602.0" r="2.8"/><circle cx="527.5" cy="602.0" r="2.8"/><circle cx="528.8" cy="603.5" r="2.8"/><circle cx="530.1" cy="605.0" r="2.8"/><circle cx="531.4" cy="603.5" r="2.8"/><circle cx="532.7" cy="603.5" r="2.8"/><circle cx="534.0" cy="605.0" r="2.8"/><circle cx="535.3" cy="603.5" r="2.8"/><circle cx="537.9" cy="603.5" r="2.8"/><circle cx="539.2" cy="605.0" r="2.8"/><circle cx="541.8" cy="605.0" r="2.8"/><circle cx="543.0" cy="605.0" r="2.8"/><circle cx="545.6" cy="605.0" r="2.8"/><circle cx="549.5" cy="603.5" r="2.8"/></g>
<path d="M88.5 606.5L89.3 606.5L90.1 606.5L90.9 606.5L91.7 606.5L92.5 606.5L93.4 606.5L94.2 606.5L95.0 606.5L95.8 606.5L96.6 606.5L97.4 606.5L98.2 606.5L99.0 606.5L99.8 606.5L100.6 606.5L101.5 606.5L102.3 606.5L103.1 606.5L103.9 606.5L104.7 606.5L105.5 606.5L106.3 606.5L107.1 606.5L107.9 606.5L108.7 606.5L109.5 606.5L110.4 606.5L111.2 606.5L112.0 606.5L112.8 606.5L113.6 606.5L114.4 606.5L115.2 606.5L116.0 606.5L116.8 606.5L117.6 606.5L118.4 606.5L119.3 606.5L120.1 606.5L120.9 606.5L121.7 606.5L122.5 606.5L123.3 606.5L124.1 606.5L124.9 606.5L125.7 606.5L126.5 606.5L127.3 606.5L128.2 606.5L129.0 606.5L129.8 606.5L130.6 606.5L131.4 606.5L132.2 606.5L133.0 606.5L133.8 606.5L134.6 606.5L135.4 606.5L136.3 606.5L137.1 606.5L137.9 606.5L138.7 606.5L139.5 606.5L140.3 606.5L141.1 606.5L141.9 606.5L142.7 606.5L143.5 606.5L144.3 606.5L145.2 606.5L146.0 606.5L146.8 606.5L147.6 606.5L148.4 606.5L149.2 606.5L150.0 606.5L150.8 606.5L151.6 606.5L152.4 606.5L153.2 606.5L154.1 606.5L154.9 606.5L155.7 606.5L156.5 606.5L157.3 606.5L158.1 606.5L158.9 606.5L159.7 606.5L160.5 606.5L161.3 606.5L162.2 606.5L163.0 606.5L163.8 606.5L164.6 606.5L165.4 606.5L166.2 606.5L167.0 606.5L167.8 606.5L168.6 606.5L169.4 606.5L170.2 606.5L171.1 606.5L171.9 606.5L172.7 606.5L173.5 606.5L174.3 606.5L175.1 606.5L175.9 606.5L176.7 606.5L177.5 606.5L178.3 606.5L179.1 606.5L180.0 606.5L180.8 606.5L181.6 606.5L182.4 606.5L183.2 606.5L184.0 606.5L184.8 606.5L185.6 606.5L186.4 606.5L187.2 606.5L188.1 606.5L188.9 606.5L189.7 606.5L190.5 606.5L191.3 606.5L192.1 606.5L192.9 606.5L193.7 606.5L194.5 606.5L195.3 606.5L196.1 606.5L197.0 606.5L197.8 606.5L198.6 606.5L199.4 606.5L200.2 606.5L201.0 606.5L201.8 606.5L202.6 606.5L203.4 606.5L204.2 606.5L205.1 606.5L205.9 606.5L206.7 606.5L207.5 606.5L208.3 606.5L209.1 606.5L209.9 606.5L210.7 606.5L211.5 606.5L212.3 606.5L213.1 606.5L214.0 606.5L214.8 606.5L215.6 606.5L216.4 606.5L217.2 606.5L218.0 606.5L218.8 606.5L219.6 606.5L220.4 606.5L221.2 606.5L222.0 606.5L222.9 606.5L223.7 606.5L224.5 606.5L225.3 606.5L226.1 606.5L226.9 606.5L227.7 606.5L228.5 606.5L229.3 606.5L230.1 606.5L230.9 606.5L231.8 606.5L232.6 606.5L233.4 606.5L234.2 606.5L235.0 606.5L235.8 606.5L236.6 606.5L237.4 606.5L238.2 606.5L239.0 606.5L239.9 606.5L240.7 606.5L241.5 606.5L242.3 606.5L243.1 606.5L243.9 606.5L244.7 606.4L245.5 606.4L246.3 606.4L247.1 606.4L247.9 606.4L248.8 606.4L249.6 606.4L250.4 606.4L251.2 606.4L252.0 606.4L252.8 606.3L253.6 606.3L254.4 606.3L255.2 606.3L256.0 606.3L256.9 606.3L257.7 606.2L258.5 606.2L259.3 606.2L260.1 606.2L260.9 606.2L261.7 606.1L262.5 606.1L263.3 606.1L264.1 606.0L264.9 606.0L265.8 606.0L266.6 605.9L267.4 605.9L268.2 605.8L269.0 605.8L269.8 605.7L270.6 605.7L271.4 605.6L272.2 605.6L273.0 605.5L273.8 605.5L274.7 605.4L275.5 605.3L276.3 605.3L277.1 605.2L277.9 605.1L278.7 605.0L279.5 604.9L280.3 604.8L281.1 604.7L281.9 604.6L282.8 604.5L283.6 604.4L284.4 604.3L285.2 604.1L286.0 604.0L286.8 603.9L287.6 603.7L288.4 603.5L289.2 603.4L290.0 603.2L290.8 603.0L291.7 602.8L292.5 602.6L293.3 602.4L294.1 602.2L294.9 602.0L295.7 601.8L296.5 601.5L297.3 601.3L298.1 601.0L298.9 600.7L299.7 600.4L300.6 600.1L301.4 599.8L302.2 599.5L303.0 599.1L303.8 598.8L304.6 598.4L305.4 598.0L306.2 597.6L307.0 597.2L307.8 596.7L308.6 596.3L309.5 595.8L310.3 595.3L311.1 594.8L311.9 594.3L312.7 593.8L313.5 593.2L314.3 592.6L315.1 592.0L315.9 591.4L316.7 590.8L317.6 590.1L318.4 589.4L319.2 588.7L320.0 588.0L320.8 587.3L321.6 586.5L322.4 585.7L323.2 584.9L324.0 584.0L324.8 583.2L325.6 582.3L326.5 581.3L327.3 580.4L328.1 579.4L328.9 578.4L329.7 577.4L330.5 576.3L331.3 575.3L332.1 574.2L332.9 573.0L333.7 571.9L334.5 570.7L335.4 569.5L336.2 568.2L337.0 566.9L337.8 565.6L338.6 564.3L339.4 563.0L340.2 561.6L341.0 560.2L341.8 558.7L342.6 557.3L343.5 555.8L344.3 554.2L345.1 552.7L345.9 551.1L346.7 549.5L347.5 547.9L348.3 546.2L349.1 544.6L349.9 542.9L350.7 541.1L351.5 539.4L352.4 537.6L353.2 535.8L354.0 534.0L354.8 532.2L355.6 530.3L356.4 528.4L357.2 526.5L358.0 524.6L358.8 522.7L359.6 520.8L360.4 518.8L361.3 516.8L362.1 514.9L362.9 512.9L363.7 510.9L364.5 508.9L365.3 506.8L366.1 504.8L366.9 502.8L367.7 500.8L368.5 498.7L369.4 496.7L370.2 494.7L371.0 492.6L371.8 490.6L372.6 488.6L373.4 486.6L374.2 484.5L375.0 482.6L375.8 480.6L376.6 478.6L377.4 476.6L378.3 474.7L379.1 472.8L379.9 470.9L380.7 469.0L381.5 467.1L382.3 465.3L383.1 463.5L383.9 461.7L384.7 459.9L385.5 458.2L386.3 456.5L387.2 454.8L388.0 453.2L388.8 451.6L389.6 450.1L390.4 448.6L391.2 447.1L392.0 445.7L392.8 444.3L393.6 442.9L394.4 441.6L395.3 440.4L396.1 439.2L396.9 438.1L397.7 437.0L398.5 435.9L399.3 434.9L400.1 434.0L400.9 433.1L401.7 432.3L402.5 431.6L403.3 430.9L404.2 430.2L405.0 429.6L405.8 429.1L406.6 428.6L407.4 428.2L408.2 427.9L409.0 427.6L409.8 427.4L410.6 427.2L411.4 427.1L412.2 427.1L413.1 427.1L413.9 427.2L414.7 427.4L415.5 427.6L416.3 427.9L417.1 428.2L417.9 428.6L418.7 429.1L419.5 429.6L420.3 430.2L421.2 430.9L422.0 431.6L422.8 432.3L423.6 433.1L424.4 434.0L425.2 434.9L426.0 435.9L426.8 437.0L427.6 438.1L428.4 439.2L429.2 440.4L430.1 441.6L430.9 442.9L431.7 444.3L432.5 445.7L433.3 447.1L434.1 448.6L434.9 450.1L435.7 451.6L436.5 453.2L437.3 454.8L438.1 456.5L439.0 458.2L439.8 459.9L440.6 461.7L441.4 463.5L442.2 465.3L443.0 467.1L443.8 469.0L444.6 470.9L445.4 472.8L446.2 474.7L447.1 476.6L447.9 478.6L448.7 480.6L449.5 482.6L450.3 484.5L451.1 486.6L451.9 488.6L452.7 490.6L453.5 492.6L454.3 494.7L455.1 496.7L456.0 498.7L456.8 500.8L457.6 502.8L458.4 504.8L459.2 506.8L460.0 508.9L460.8 510.9L461.6 512.9L462.4 514.9L463.2 516.8L464.0 518.8L464.9 520.8L465.7 522.7L466.5 524.6L467.3 526.5L468.1 528.4L468.9 530.3L469.7 532.2L470.5 534.0L471.3 535.8L472.1 537.6L473.0 539.4L473.8 541.1L474.6 542.9L475.4 544.6L476.2 546.2L477.0 547.9L477.8 549.5L478.6 551.1L479.4 552.7L480.2 554.2L481.0 555.8L481.9 557.3L482.7 558.7L483.5 560.2L484.3 561.6L485.1 563.0L485.9 564.3L486.7 565.6L487.5 566.9L488.3 568.2L489.1 569.5L489.9 570.7L490.8 571.9L491.6 573.0L492.4 574.2L493.2 575.3L494.0 576.3L494.8 577.4L495.6 578.4L496.4 579.4L497.2 580.4L498.0 581.3L498.9 582.3L499.7 583.2L500.5 584.0L501.3 584.9L502.1 585.7L502.9 586.5L503.7 587.3L504.5 588.0L505.3 588.7L506.1 589.4L506.9 590.1L507.8 590.8L508.6 591.4L509.4 592.0L510.2 592.6L511.0 593.2L511.8 593.8L512.6 594.3L513.4 594.8L514.2 595.3L515.0 595.8L515.9 596.3L516.7 596.7L517.5 597.2L518.3 597.6L519.1 598.0L519.9 598.4L520.7 598.8L521.5 599.1L522.3 599.5L523.1 599.8L523.9 600.1L524.8 600.4L525.6 600.7L526.4 601.0L527.2 601.3L528.0 601.5L528.8 601.8L529.6 602.0L530.4 602.2L531.2 602.4L532.0 602.6L532.8 602.8L533.7 603.0L534.5 603.2L535.3 603.4L536.1 603.5L536.9 603.7L537.7 603.9L538.5 604.0L539.3 604.1L540.1 604.3L540.9 604.4L541.8 604.5L542.6 604.6L543.4 604.7L544.2 604.8L545.0 604.9L545.8 605.0L546.6 605.1L547.4 605.2L548.2 605.3L549.0 605.3L549.8 605.4L550.7 605.5L551.5 605.5L552.3 605.6L553.1 605.6L553.9 605.7L554.7 605.7L555.5 605.8L556.3 605.8L557.1 605.9L557.9 605.9L558.7 606.0L559.6 606.0L560.4 606.0L561.2 606.1L562.0 606.1L562.8 606.1L563.6 606.2L564.4 606.2L565.2 606.2L566.0 606.2L566.8 606.2L567.6 606.3L568.5 606.3L569.3 606.3L570.1 606.3L570.9 606.3L571.7 606.3L572.5 606.4L573.3 606.4L574.1 606.4L574.9 606.4L575.7 606.4L576.6 606.4L577.4 606.4L578.2 606.4L579.0 606.4L579.8 606.4L580.6 606.5L581.4 606.5L582.2 606.5L583.0 606.5L583.8 606.5L584.6 606.5L585.5 606.5L586.3 606.5L587.1 606.5L587.9 606.5L588.7 606.5L589.5 606.5L590.3 606.5L591.1 606.5L591.9 606.5L592.7 606.5L593.5 606.5L594.4 606.5L595.2 606.5L596.0 606.5L596.8 606.5L597.6 606.5L598.4 606.5L599.2 606.5L600.0 606.5L600.8 606.5L601.6 606.5L602.5 606.5L603.3 606.5L604.1 606.5L604.9 606.5L605.7 606.5L606.5 606.5L607.3 606.5L608.1 606.5L608.9 606.5L609.7 606.5L610.5 606.5L611.4 606.5L612.2 606.5L613.0 606.5L613.8 606.5L614.6 606.5L615.4 606.5L616.2 606.5L617.0 606.5L617.8 606.5L618.6 606.5L619.4 606.5L620.3 606.5L621.1 606.5L621.9 606.5L622.7 606.5L623.5 606.5L624.3 606.5L625.1 606.5L625.9 606.5L626.7 606.5L627.5 606.5L628.4 606.5L629.2 606.5L630.0 606.5L630.8 606.5L631.6 606.5L632.4 606.5L633.2 606.5L634.0 606.5L634.8 606.5L635.6 606.5L636.4 606.5L637.3 606.5L638.1 606.5L638.9 606.5L639.7 606.5L640.5 606.5L641.3 606.5L642.1 606.5L642.9 606.5L643.7 606.5L644.5 606.5L645.4 606.5L646.2 606.5L647.0 606.5L647.8 606.5L648.6 606.5L649.4 606.5L650.2 606.5L651.0 606.5L651.8 606.5L652.6 606.5L653.4 606.5L654.3 606.5L655.1 606.5L655.9 606.5L656.7 606.5L657.5 606.5L658.3 606.5L659.1 606.5L659.9 606.5L660.7 606.5L661.5 606.5L662.3 606.5L663.2 606.5L664.0 606.5L664.8 606.5L665.6 606.5L666.4 606.5L667.2 606.5L668.0 606.5L668.8 606.5L669.6 606.5L670.4 606.5L671.2 606.5L672.1 606.5L672.9 606.5L673.7 606.5L674.5 606.5L675.3 606.5L676.1 606.5L676.9 606.5L677.7 606.5L678.5 606.5L679.3 606.5L680.2 606.5L681.0 606.5L681.8 606.5L682.6 606.5L683.4 606.5L684.2 606.5L685.0 606.5L685.8 606.5L686.6 606.5L687.4 606.5L688.2 606.5L689.1 606.5L689.9 606.5L690.7 606.5L691.5 606.5L692.3 606.5L693.1 606.5L693.9 606.5L694.7 606.5L695.5 606.5L696.3 606.5L697.1 606.5L698.0 606.5L698.8 606.5L699.6 606.5L700.4 606.5L701.2 606.5L702.0 606.5L702.8 606.5L703.6 606.5L704.4 606.5L705.2 606.5L706.1 606.5L706.9 606.5L707.7 606.5L708.5 606.5L709.3 606.5L710.1 606.5L710.9 606.5L711.7 606.5L712.5 606.5L713.3 606.5L714.1 606.5L715.0 606.5L715.8 606.5L716.6 606.5L717.4 606.5L718.2 606.5L719.0 606.5L719.8 606.5L720.6 606.5L721.4 606.5L722.2 606.5L723.0 606.5L723.9 606.5L724.7 606.5L725.5 606.5L726.3 606.5L727.1 606.5L727.9 606.5L728.7 606.5L729.5 606.5L730.3 606.5L731.1 606.5L732.0 606.5L732.8 606.5L733.6 606.5L734.4 606.5L735.2 606.5L736.0 606.5" fill="none" stroke="#ff0000" stroke-width="2.6" stroke-linejoin="round"/>
<path d="M658.9 395.4H711.8" stroke="#ff0000" stroke-width="2.6"/>
<path d="M169.44 606.0v-6.0M169.44 380.2v6.0M250.38 606.0v-6.0M250.38 380.2v6.0M331.31 606.0v-6.0M331.31 380.2v6.0M412.25 606.0v-6.0M412.25 380.2v6.0M493.19 606.0v-6.0M493.19 380.2v6.0M574.12 606.0v-6.0M574.12 380.2v6.0M655.06 606.0v-6.0M655.06 380.2v6.0M88.5 576.39h6.0M736.0 576.39h-6.0M88.5 546.23h6.0M736.0 546.23h-6.0M88.5 516.07h6.0M736.0 516.07h-6.0M88.5 485.91h6.0M736.0 485.91h-6.0M88.5 455.75h6.0M736.0 455.75h-6.0M88.5 425.59h6.0M736.0 425.59h-6.0M88.5 395.43h6.0M736.0 395.43h-6.0" stroke="#000" stroke-width="0.65" fill="none"/>
<rect x="88.5" y="380.2" width="647.50" height="225.80" fill="none" stroke="#000" stroke-width="0.8" stroke-linejoin="round"/>
<g font-family="Liberation Serif, serif" font-size="21.6" fill="#111">
<path d="M68.3 626.0H81.1" stroke="#111" stroke-width="1.1"/><text transform="translate(82.7,631.9) scale(1,1.07)" text-anchor="start">0.4</text>
<path d="M149.2 626.0H162.0" stroke="#111" stroke-width="1.1"/><text transform="translate(163.6,631.9) scale(1,1.07)" text-anchor="start">0.3</text>
<path d="M230.2 626.0H243.0" stroke="#111" stroke-width="1.1"/><text transform="translate(244.6,631.9) scale(1,1.07)" text-anchor="start">0.2</text>
<path d="M311.1 626.0H323.9" stroke="#111" stroke-width="1.1"/><text transform="translate(325.5,631.9) scale(1,1.07)" text-anchor="start">0.1</text>
<text transform="translate(406.8,631.9) scale(1,1.07)" text-anchor="start">0</text>
<text transform="translate(478.7,631.9) scale(1,1.07)" text-anchor="start">0.1</text>
<text transform="translate(559.6,631.9) scale(1,1.07)" text-anchor="start">0.2</text>
<text transform="translate(640.6,631.9) scale(1,1.07)" text-anchor="start">0.3</text>
<text transform="translate(721.5,631.9) scale(1,1.07)" text-anchor="start">0.4</text>
<text transform="translate(77.2,611.8) scale(1,1.07)" text-anchor="end">0</text>
<text transform="translate(77.2,581.6) scale(1,1.07)" text-anchor="end">20</text>
<text transform="translate(77.2,551.4) scale(1,1.07)" text-anchor="end">40</text>
<text transform="translate(77.2,521.3) scale(1,1.07)" text-anchor="end">60</text>
<text transform="translate(77.2,491.1) scale(1,1.07)" text-anchor="end">80</text>
<text transform="translate(77.2,460.9) scale(1,1.07)" text-anchor="end">100</text>
<text transform="translate(77.2,430.8) scale(1,1.07)" text-anchor="end">120</text>
<text transform="translate(77.2,400.6) scale(1,1.07)" text-anchor="end">140</text>
<text transform="translate(412.3,661.3) scale(0.998,1.07)" text-anchor="middle">time of ﬂight - 40712.9<tspan dx="2.6">ns</tspan> [ns]</text>
<text transform="translate(26.2,493.7) rotate(-90)" text-anchor="middle">ion count per 1.6<tspan dx="2.6">ps</tspan></text>
<text transform="translate(647.0,400.8) scale(0.986,1.07)" text-anchor="end">Gaussian fit</text>
</g>
</g>
</svg>
</body></html>
